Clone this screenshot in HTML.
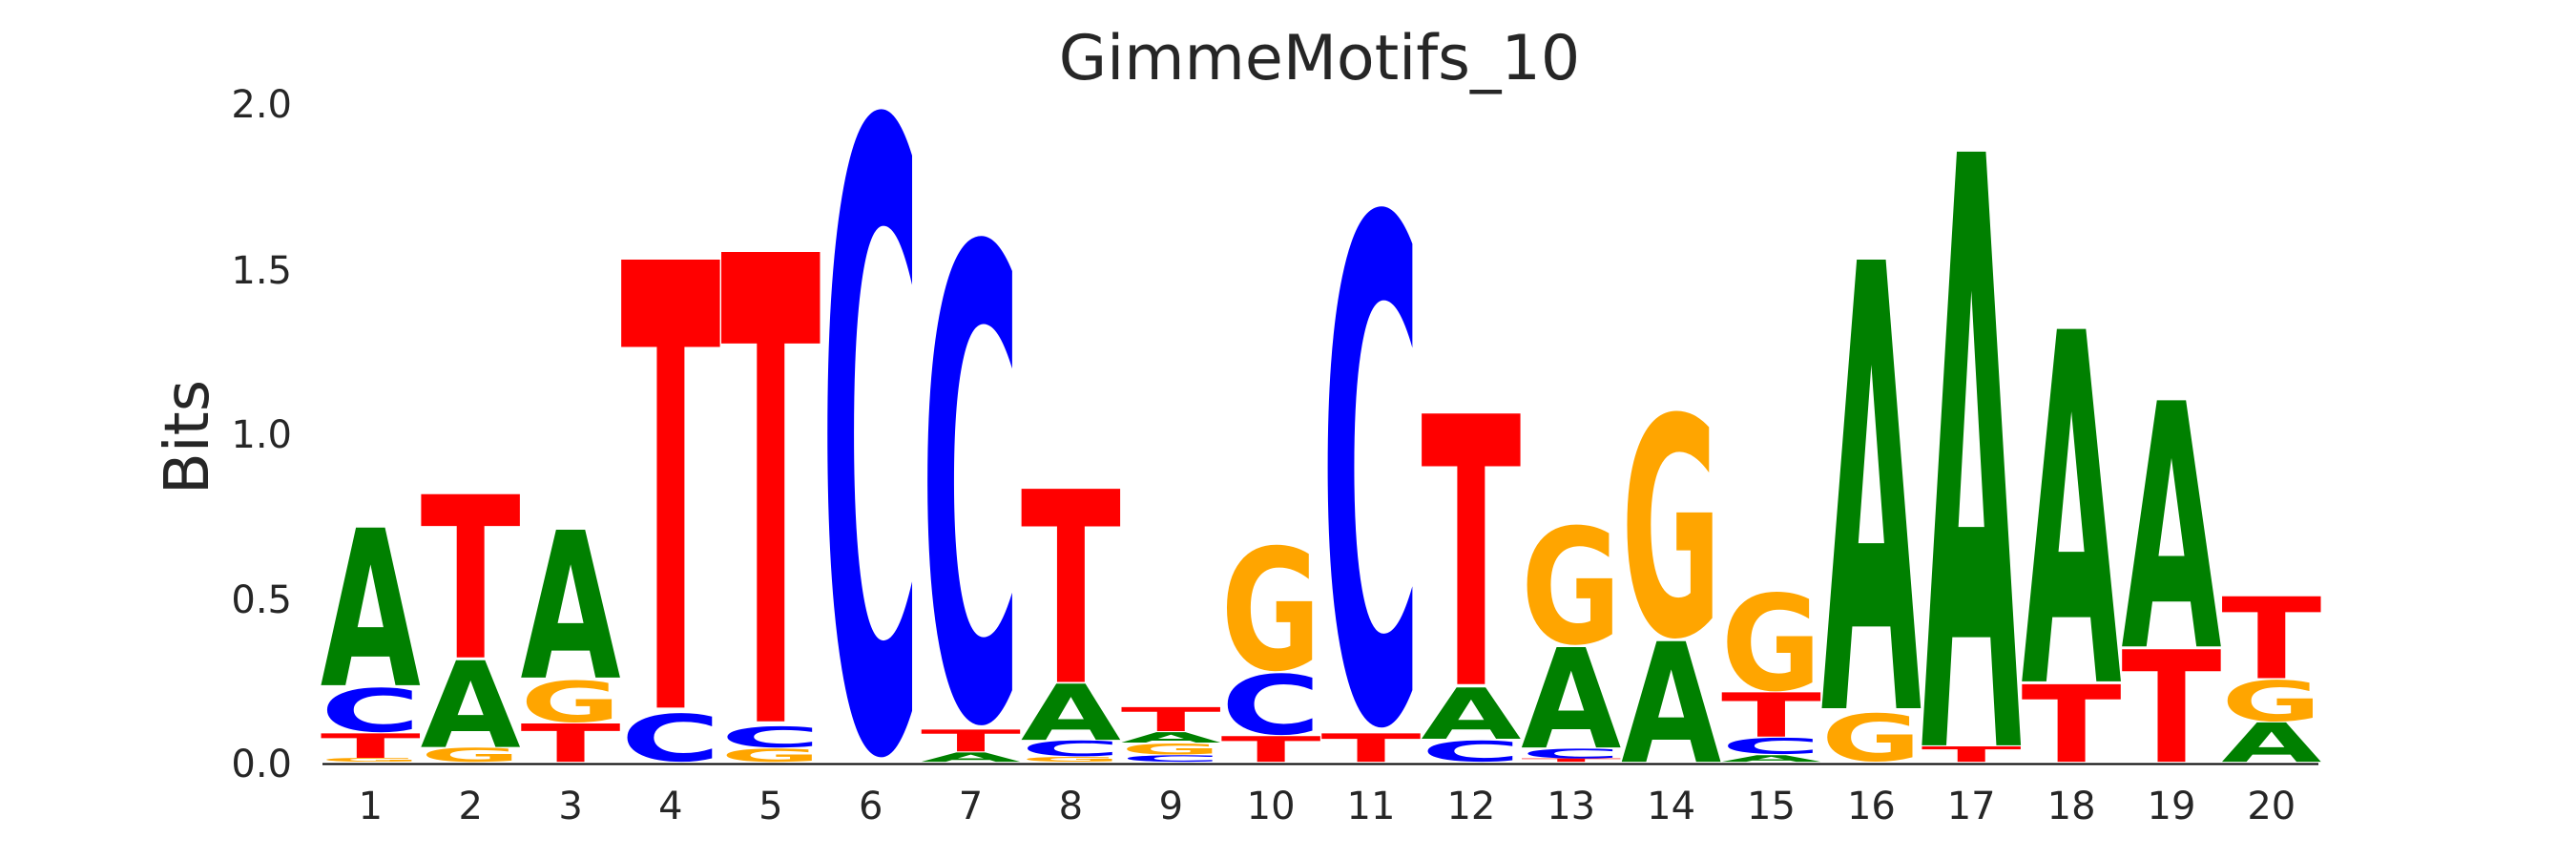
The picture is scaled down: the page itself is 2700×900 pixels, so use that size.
<!DOCTYPE html>
<html><head><meta charset="utf-8"><style>
html,body{margin:0;padding:0;background:#fff;width:2700px;height:900px;overflow:hidden}
svg{display:block}
.L{font-family:"DejaVu Sans",sans-serif;font-weight:bold;font-size:100px}
.t{font-family:"DejaVu Sans","Liberation Sans",sans-serif;fill:#262626}
</style></head><body>
<svg width="2700" height="900" viewBox="0 0 2700 900" xmlns="http://www.w3.org/2000/svg" overflow="hidden">
<text class="t" x="1383" y="83" font-size="65" text-anchor="middle">GimmeMotifs_10</text>
<g class="t" font-size="40" text-anchor="end">
<text x="306" y="123">2.0</text>
<text x="306" y="297">1.5</text>
<text x="306" y="469">1.0</text>
<text x="306" y="642">0.5</text>
<text x="306" y="814">0.0</text>
</g>
<text class="t" font-size="64" text-anchor="middle" transform="translate(218,458) rotate(-90)">Bits</text>
<g class="t" font-size="40" text-anchor="middle" id="xl"></g>
<line x1="338" y1="800.5" x2="2430" y2="800.5" stroke="#000" stroke-width="2"/>
<g transform="scale(0.8610,0.5725)" id="logo"></g>
</svg>
<script>
var data=[
[["G",1387,1394],["T",1342,1387],["C",1258,1340],["A",965,1254]],
[["G",1368,1394],["A",1208,1367],["T",904,1203]],
[["T",1324,1394],["G",1244,1322],["A",969,1240]],
[["C",1305,1394],["T",474,1295]],
[["G",1370,1394],["C",1329,1368],["T",460,1320]],
[["C",200,1384]],
[["A",1377,1394],["T",1335,1375],["C",432,1326]],
[["G",1385,1394],["C",1355,1384],["A",1251,1354],["T",894,1248]],
[["C",1382,1394],["G",1360,1381],["A",1340,1359],["T",1294,1338]],
[["T",1347,1394],["C",1232,1345],["G",997,1228]],
[["T",1342,1394],["C",378,1330]],
[["C",1355,1394],["A",1258,1352],["T",756,1252]],
[["T",1388,1394],["C",1370,1388],["A",1184,1368],["G",960,1180]],
[["A",1173,1394],["G",752,1168]],
[["A",1382,1394],["C",1350,1380],["T",1267,1348],["G",1083,1265]],
[["G",1305,1394],["A",474,1296]],
[["T",1366,1394],["A",276,1364]],
[["T",1252,1394],["A",601,1247]],
[["T",1188,1394],["A",732,1183]],
[["A",1322,1394],["G",1244,1320],["T",1091,1241]]];
var col={A:"#008000",C:"#0000ff",G:"#ffa500",T:"#ff0000"};
var ns="http://www.w3.org/2000/svg",g=document.getElementById("logo"),xl=document.getElementById("xl");
data.forEach(function(c,i){
 var L=393+i*121.8;
 c.forEach(function(l){
  var h=l[2]-l[1];
  var round=(l[0]=="C"||l[0]=="G");
  var sy=round? h/75.5 : h/73;
  var by=round? l[2]-1.3*sy : l[2];
  var t=document.createElementNS(ns,"text");
  t.setAttribute("class","L");t.setAttribute("fill",col[l[0]]);
  t.setAttribute("x","0");t.setAttribute("y","0");
  t.setAttribute("textLength","122");t.setAttribute("lengthAdjust","spacingAndGlyphs");
  t.setAttribute("transform","translate("+(L-3)+","+by+") scale(1,"+sy+")");
  t.textContent=l[0];g.appendChild(t);
 });
 var x=document.createElementNS(ns,"text");
 x.setAttribute("x",((L+58)*0.861).toFixed(1));x.setAttribute("y","858");
 x.textContent=String(i+1);xl.appendChild(x);
});
</script>
</body></html>
